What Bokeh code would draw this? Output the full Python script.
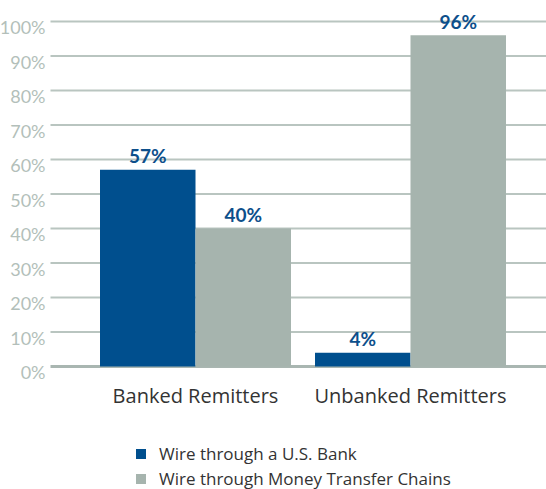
from bokeh.plotting import figure
from bokeh.models import Range1d, Legend, LegendItem, ColumnDataSource
from bokeh.core.properties import value
from bokeh.embed import file_html
from bokeh.resources import INLINE

categories = ["Banked Remitters", "Unbanked Remitters"]
series_names = ["Wire through a U.S. Bank", "Wire through Money Transfer Chains"]
bank_values = [57, 4]
chain_values = [40, 96]
y_ticks = [0, 10, 20, 30, 40, 50, 60, 70, 80, 90, 100]
y_tick_labels = [f"{t}%" for t in y_ticks]

BLUE = "#004f8e"
GREY = "#a6b4ae"
GRID = "#b9c5c0"
LABEL_GREY = "#b3bfba"
FONT = "Lato"

W, H = 546, 489
px_per_unit = 215.0
group0_px = 195.0
py = 3.45          # pixels per percent
zero_px = 366.0    # pixel row of the 0% line

p = figure(width=W, height=H, output_backend="svg", toolbar_location=None,
           x_range=Range1d(-group0_px / px_per_unit, (W - group0_px) / px_per_unit),
           y_range=Range1d(-(H - zero_px) / py, zero_px / py),
           x_axis_location=None, y_axis_location=None,
           min_border_left=0, min_border_right=0, min_border_top=0, min_border_bottom=0)
p.extra_x_ranges = {"px": Range1d(0, W)}
p.outline_line_color = None
p.xgrid.visible = False
p.ygrid.visible = False

# gridlines
gy = [t for t in y_ticks if t > 0]
grid_src = ColumnDataSource(dict(y=gy, x0=[50] * len(gy), x1=[W] * len(gy)))
p.segment(x0="x0", x1="x1", y0="y", y1="y", source=grid_src, x_range_name="px",
          line_color=GRID, line_width=2)
p.segment(x0=[50], x1=[W], y0=[y_ticks[0]], y1=[y_ticks[0]], x_range_name="px",
          line_color="#a9b6b1", line_width=3)

# y tick labels
p.text(x=[45] * len(y_ticks), y=y_ticks, text=y_tick_labels, x_range_name="px",
       text_align="right", text_baseline="middle", y_offset=5.5,
       text_font=value(FONT), text_font_size="18px", text_color=LABEL_GREY)

bw = 95.5 / px_per_unit
xs = list(range(len(categories)))
xb = [x - bw / 2 for x in xs]
xg = [x + bw / 2 for x in xs]
p.vbar(x=xb, top=bank_values, bottom=0, width=bw, fill_color=BLUE, line_color=None)
p.vbar(x=xg, top=chain_values, bottom=0, width=bw, fill_color=GREY, line_color=None)

# value labels
p.text(x=xb + xg, y=bank_values + chain_values,
       text=[f"{v}%" for v in bank_values + chain_values],
       text_align="center", text_baseline="middle", y_offset=-14,
       text_font=value(FONT), text_font_style="bold", text_font_size="19px",
       text_color="#0d4f8b")

# category labels
p.text(x=xs, y=[0] * len(xs), text=categories, text_align="center",
       text_baseline="middle", y_offset=29,
       text_font=value("Open Sans"), text_font_size="20px", text_color="#333333")

# legend
m1 = p.scatter(x=[xs[0]], y=[-200], marker="square", size=10, fill_color=BLUE, line_color=None)
m2 = p.scatter(x=[xs[0]], y=[-200], marker="square", size=10, fill_color=GREY, line_color=None)
legend = Legend(items=[LegendItem(label=series_names[0], renderers=[m1]),
                       LegendItem(label=series_names[1], renderers=[m2])],
                location=(128, -2), orientation="vertical",
                glyph_width=25, glyph_height=25, label_height=25, spacing=0,
                label_standoff=6, padding=0, margin=0,
                background_fill_alpha=0, border_line_color=None,
                label_text_font="Open Sans", label_text_font_size="17px",
                label_text_color="#333333")
p.add_layout(legend, "center")

open("out.html", "w").write(file_html(p, INLINE))
